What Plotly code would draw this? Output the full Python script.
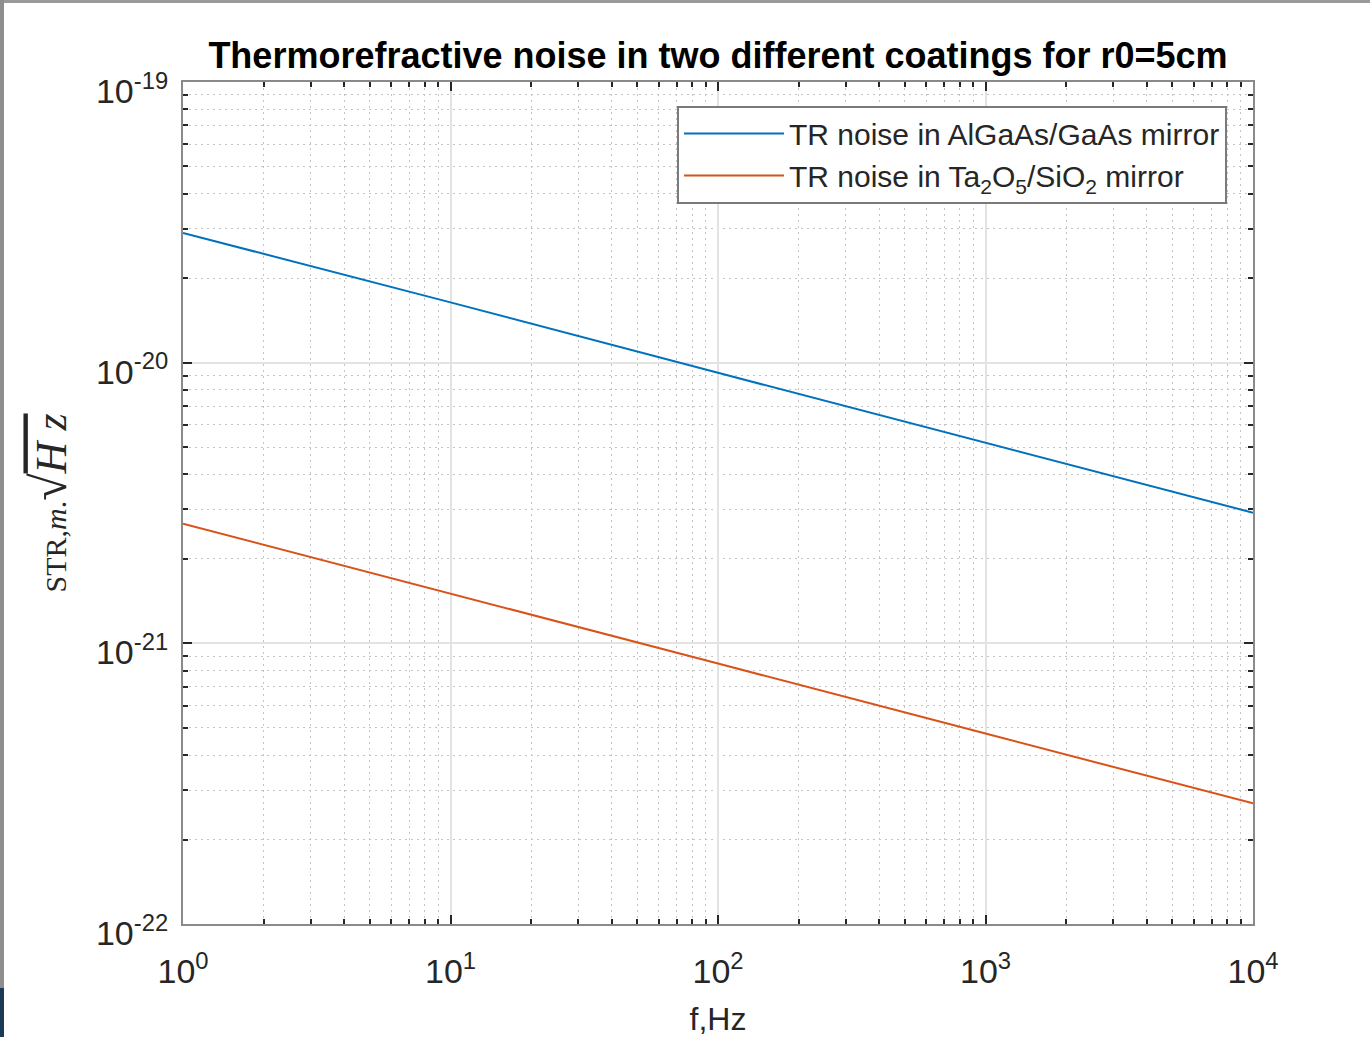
import plotly.graph_objects as go

# Data (log-log)
freq = [1, 10, 100, 1000, 10000]
algaas = [2.90e-20, 1.64e-20, 9.2e-21, 5.19e-21, 2.92e-21]
ta2o5 = [2.67e-21, 1.50e-21, 8.47e-22, 4.77e-22, 2.69e-22]

name_algaas = "TR noise in AlGaAs/GaAs mirror"
name_ta2o5 = "TR noise in Ta<sub>2</sub>O<sub>5</sub>/SiO<sub>2</sub> mirror"

x_ticks = [1, 10, 100, 1000, 10000]
x_ticktext = ["10<sup>0</sup>", "10<sup>1</sup>", "10<sup>2</sup>", "10<sup>3</sup>", "10<sup>4</sup>"]
y_ticks = [1e-22, 1e-21, 1e-20, 1e-19]
y_ticktext = ["10<sup>-22</sup>", "10<sup>-21</sup>", "10<sup>-20</sup>", "10<sup>-19</sup>"]

x_minor = [k * 10 ** e for e in range(0, 4) for k in range(2, 10)]
y_minor = [k * 10.0 ** e for e in range(-22, -19) for k in range(2, 10)]

FONT = "Liberation Sans, Arial, Helvetica, sans-serif"
SERIF = "Liberation Serif, Times New Roman, serif"
TXT = "#262626"

fig = go.Figure()
fig.add_trace(go.Scatter(x=freq, y=algaas, mode="lines", name=name_algaas,
                         line=dict(color="#0072BD", width=2)))
fig.add_trace(go.Scatter(x=freq, y=ta2o5, mode="lines", name=name_ta2o5,
                         line=dict(color="#D95319", width=2)))

axis_common = dict(
    type="log", automargin=False,
    showline=True, linecolor="#8a8a8a", linewidth=2, mirror="ticks",
    ticks="inside", ticklen=9, tickwidth=1.5, tickcolor=TXT,
    showgrid=True, gridcolor="#e3e3e3", gridwidth=1.5,
    tickfont=dict(family=FONT, size=34, color=TXT),
    zeroline=False,
)

minor_common = dict(ticks="inside", ticklen=5, tickcolor=TXT, showgrid=True,
                    gridcolor="#c4c4c4", griddash="1.5px,4.5px", gridwidth=1)

fig.update_xaxes(
    **axis_common,
    range=[0, 4],
    tickmode="array", tickvals=x_ticks, ticktext=x_ticktext,
    ticklabelstandoff=16,
    minor=dict(tickmode="array", tickvals=x_minor, **minor_common),
    title=dict(text="f,Hz", font=dict(family=FONT, size=32, color=TXT), standoff=20),
)
fig.update_yaxes(
    **axis_common,
    range=[-22, -19],
    tickmode="array", tickvals=y_ticks, ticktext=y_ticktext,
    ticklabelstandoff=6, ticklabelshift=9,
    minor=dict(tickmode="array", tickvals=y_minor, **minor_common),
    title=dict(text="STR,<i>m</i>.<span style='font-size:50px'>√</span>"
                    "<span style='text-decoration:overline;font-size:44px'><i>H z</i></span>",
               font=dict(family=SERIF, size=30, color=TXT),
               standoff=20),
)

fig.update_layout(
    width=1370, height=1037,
    margin=dict(l=183, r=117, t=82, b=113),
    paper_bgcolor="white", plot_bgcolor="white",
    title=dict(text="<b>Thermorefractive noise in two different coatings for r0=5cm</b>",
               font=dict(family=FONT, size=36, color="black"),
               x=0.5, xanchor="center", xref="paper", y=0.947, yanchor="middle"),
    legend=dict(
        x=0.9757, xanchor="right", y=0.972, yanchor="top",
        bgcolor="white", bordercolor="#7a7a7a", borderwidth=2,
        font=dict(family=FONT, size=30, color=TXT),
        itemwidth=100, tracegroupgap=0,
    ),
    showlegend=True,
)

# screenshot frame artifacts at the image edges
fig.add_shape(type="rect", xref="paper", yref="paper",
              x0=(0 - 183) / 1070, x1=(1370 - 183) / 1070,
              y0=1 - (3 - 82) / 842, y1=1 - (0 - 82) / 842,
              line=dict(width=0), fillcolor="#9a9a9a", layer="above")
fig.add_shape(type="rect", xref="paper", yref="paper",
              x0=(0 - 183) / 1070, x1=(4 - 183) / 1070,
              y0=1 - (988 - 82) / 842, y1=1 - (0 - 82) / 842,
              line=dict(width=0), fillcolor="#8e8e8e", layer="above")
fig.add_shape(type="rect", xref="paper", yref="paper",
              x0=(0 - 183) / 1070, x1=(4 - 183) / 1070,
              y0=1 - (1037 - 82) / 842, y1=1 - (988 - 82) / 842,
              line=dict(width=0), fillcolor="#1c3a55", layer="above")

fig.write_html("out.html", config={"displayModeBar": False},
               post_script="document.body.style.margin='0';document.body.style.overflow='hidden';")
